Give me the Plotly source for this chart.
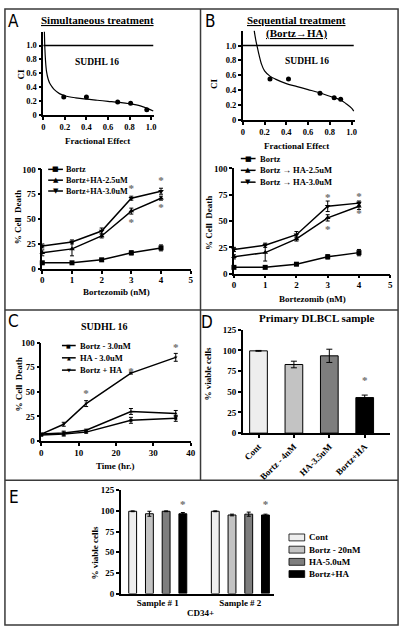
import plotly.graph_objects as go

W, H = 407, 632
def X(px): return px / W
def Y(py): return 1 - py / H

SERIF = "Liberation Serif, Times New Roman, serif"
LETTER = "Liberation Sans Narrow, DejaVu Sans Condensed, sans-serif"
SYM = "DejaVu Sans"

# ---------------- data ----------------
# A (top): combination index, simultaneous treatment
A_fa = [0.19, 0.40, 0.69, 0.81, 0.96]
A_ci = [0.26, 0.26, 0.19, 0.17, 0.08]
A_curve_fa = [0.01, 0.015, 0.02, 0.03, 0.045, 0.06, 0.08, 0.10, 0.15, 0.20, 0.30, 0.40,
              0.50, 0.60, 0.70, 0.80, 0.90, 0.97, 1.02]
A_curve_ci = [1.20, 0.95, 0.80, 0.63, 0.52, 0.46, 0.41, 0.37, 0.31, 0.28, 0.25, 0.23,
              0.215, 0.20, 0.185, 0.165, 0.135, 0.095, 0.06]
# B (top): combination index, sequential treatment
B_fa = [0.25, 0.42, 0.71, 0.84, 0.90]
B_ci = [0.55, 0.55, 0.36, 0.30, 0.28]
B_curve_fa = [0.105, 0.12, 0.135, 0.15, 0.17, 0.20, 0.25, 0.30, 0.40, 0.50, 0.60, 0.70,
              0.80, 0.90, 0.95, 1.00, 1.02]
B_curve_ci = [1.20, 1.07, 0.97, 0.87, 0.76, 0.66, 0.59, 0.55, 0.49, 0.45, 0.41, 0.37,
              0.32, 0.27, 0.22, 0.16, 0.12]
CI_REF = 1.0

# A/B (bottom): % cell death vs bortezomib dose
dose = [0, 1, 2, 3, 4]
A_bortz = [6, 6, 9, 16, 21];   A_bortz_err = [1, 1, 1, 2, 3]
A_ha25 = [16, 20, 33, 58, 71]; A_ha25_err = [3, 7, 2, 3, 2]
A_ha30 = [23, 27, 38, 71, 78]; A_ha30_err = [2, 2, 3, 2, 3]
A_star_x = [3, 3, 4, 4];       A_star_y = [80, 46, 88, 61]
B_bortz = [6, 6, 9, 16, 20];   B_bortz_err = [1, 1, 1, 2, 3]
B_ha25 = [16, 20, 33, 53, 64]; B_ha25_err = [2, 8, 2, 3, 3]
B_ha30 = [23, 27, 37, 64, 67]; B_ha30_err = [2, 2, 3, 5, 2]
B_star_x = [3, 3, 4, 4];       B_star_y = [72, 41, 73, 56]

# C: time course
time_h = [0, 6, 12, 24, 36]
C_bortz = [6, 7, 9, 21, 23];   C_bortz_err = [1, 2, 1, 3, 3]
C_ha = [7, 8, 11, 30, 28];     C_ha_err = [1, 2, 1, 3, 3]
C_combo = [7, 17, 38, 69, 85]; C_combo_err = [1, 2, 3, 1, 4]
C_star_x = [12, 24, 36];       C_star_y = [47, 70, 94]

# D: primary DLBCL sample
D_labels = ["Cont", "Bortz - 4nM", "HA-3.5uM", "Bortz+HA"]
D_vals = [99.5, 83, 93.5, 43]
D_err = [0.5, 4, 8, 3]
D_star_idx = [3]; D_star_y = [63]

# E: CD34+
E_groups = ["Sample # 1", "Sample # 2"]
E_series = ["Cont", "Bortz - 20nM", "HA-5.0uM", "Bortz+HA"]
E_vals = [[99.5, 99.5], [96.5, 95], [99.5, 96], [96.5, 95]]
E_err = [[0.5, 0.5], [3, 1], [0.5, 2.5], [1.5, 1]]
E_star_y = [107, 107]

BAR_COLORS = ["#eeeeee", "#c3c3c3", "#7e7e7e", "#000000"]
STAR_COLOR = "#6e6e6e"

# ---------------- figure ----------------
fig = go.Figure()

def axis(dom_px, rng, tickvals, ticktext=None, anchor=None, horizontal=True, **kw):
    d = dict(range=rng, showline=True, linecolor="black", linewidth=1.5,
             ticks="outside", ticklen=3, tickwidth=1.5, tickcolor="black",
             showgrid=False, zeroline=False, tickvals=tickvals,
             tickfont=dict(family=SERIF, size=9, color="black", weight="bold"),
             anchor=anchor, fixedrange=True)
    if ticktext is not None:
        d["ticktext"] = ticktext
    if horizontal:
        d["domain"] = [X(dom_px[0]), X(dom_px[1])]
    else:
        d["domain"] = [Y(dom_px[0]), Y(dom_px[1])]
    d.update(kw)
    return d

fa_ticks = [0, 0.2, 0.4, 0.6, 0.8, 1.0]
fa_text = ["0", "0.2", "0.4", "0.6", "0.8", "1.0"]
small_tf = dict(family=SERIF, size=8.5, color="black", weight="bold")
layout_axes = dict(
    xaxis=axis((42, 155), [0, 1.03], fa_ticks, fa_text, "y", tickfont=small_tf),
    yaxis=axis((112, 27), [0, 1.2], fa_ticks, fa_text, "x", horizontal=False, tickfont=small_tf),
    xaxis2=axis((41, 192), [0, 5], [0, 1, 2, 3, 4, 5], None, "y2", ticklabelstandoff=-1),
    yaxis2=axis((268, 167), [0, 100], [0, 25, 50, 75, 100], None, "x2", horizontal=False),
    xaxis3=axis((245, 359), [0, 1.03], fa_ticks, fa_text, "y3", tickfont=small_tf),
    yaxis3=axis((117, 26), [0, 1.2], fa_ticks, fa_text, "x3", horizontal=False, tickfont=small_tf),
    xaxis4=axis((236, 395), [0, 5], [0, 1, 2, 3, 4, 5], None, "y4", ticklabelstandoff=-1),
    yaxis4=axis((273, 166), [0, 100], [0, 25, 50, 75, 100], None, "x4", horizontal=False),
    xaxis5=axis((40, 192), [0, 40], [0, 10, 20, 30, 40], None, "y5", ticklabelstandoff=-1),
    yaxis5=axis((443, 343), [0, 100], [0, 25, 50, 75, 100], None, "x5", horizontal=False),
    xaxis6=axis((245, 395), [-0.444, 3.72], list(range(len(D_labels))), D_labels, "y6",
                tickangle=-45),
    yaxis6=axis((435, 330), [0, 125], [0, 25, 50, 75, 100, 125], None, "x6", horizontal=False),
    xaxis7=axis((121, 277), [-0.446, 1.41], list(range(len(E_groups))), E_groups, "y7",
                ticks=""),
    yaxis7=axis((598, 493), [0, 125], [0, 25, 50, 75, 100, 125], None, "x7", horizontal=False),
)

def ci_panel(fa, ci, cfa, cci, xa, ya):
    fig.add_trace(go.Scatter(x=[0, cfa[-1]], y=[CI_REF, CI_REF], mode="lines",
                             line=dict(color="black", width=1.3), xaxis=xa, yaxis=ya,
                             showlegend=False, hoverinfo="skip"))
    fig.add_trace(go.Scatter(x=cfa, y=cci, mode="lines", line=dict(color="black", width=1.2),
                             xaxis=xa, yaxis=ya, showlegend=False, line_shape="spline"))
    fig.add_trace(go.Scatter(x=fa, y=ci, mode="markers", marker=dict(color="black", size=5),
                             xaxis=xa, yaxis=ya, showlegend=False))

ci_panel(A_fa, A_ci, A_curve_fa, A_curve_ci, "x", "y")
ci_panel(B_fa, B_ci, B_curve_fa, B_curve_ci, "x3", "y3")

def line_series(x, y, err, symbol, xa, ya, msize=5):
    fig.add_trace(go.Scatter(
        x=x, y=y, mode="lines+markers", xaxis=xa, yaxis=ya, showlegend=False,
        line=dict(color="black", width=1.5),
        marker=dict(color="black", size=msize, symbol=symbol),
        error_y=dict(type="data", array=err, color="black", thickness=1, width=2),
        cliponaxis=False))

def stars(x, y, xa, ya, size=11):
    fig.add_trace(go.Scatter(x=x, y=y, mode="text", text=["*"] * len(x),
                             textfont=dict(family=SERIF, size=size, color=STAR_COLOR, weight="bold"),
                             xaxis=xa, yaxis=ya, showlegend=False, cliponaxis=False))

line_series(dose, A_bortz, A_bortz_err, "square", "x2", "y2")
line_series(dose, A_ha25, A_ha25_err, "triangle-up", "x2", "y2")
line_series(dose, A_ha30, A_ha30_err, "triangle-down", "x2", "y2")
stars(A_star_x, A_star_y, "x2", "y2")

line_series(dose, B_bortz, B_bortz_err, "square", "x4", "y4")
line_series(dose, B_ha25, B_ha25_err, "triangle-up", "x4", "y4")
line_series(dose, B_ha30, B_ha30_err, "triangle-down", "x4", "y4")
stars(B_star_x, B_star_y, "x4", "y4")

line_series(time_h, C_bortz, C_bortz_err, "square", "x5", "y5", msize=3)
line_series(time_h, C_ha, C_ha_err, "triangle-up", "x5", "y5", msize=3)
line_series(time_h, C_combo, C_combo_err, "triangle-down", "x5", "y5", msize=3)
stars(C_star_x, C_star_y, "x5", "y5")

# D bars
fig.add_trace(go.Bar(x=list(range(len(D_labels))), y=D_vals, width=0.5, xaxis="x6", yaxis="y6",
                     marker=dict(color=BAR_COLORS, line=dict(color="black", width=1)),
                     error_y=dict(type="data", array=D_err, color="black", thickness=1, width=3),
                     showlegend=False))
stars(D_star_idx, D_star_y, "x6", "y6")

# E grouped bars
BARGAP = 0.19
for k, name in enumerate(E_series):
    fig.add_trace(go.Bar(x=list(range(len(E_groups))), y=E_vals[k], name=name,
                         xaxis="x7", yaxis="y7",
                         marker=dict(color=BAR_COLORS[k], line=dict(color="black", width=1)),
                         error_y=dict(type="data", array=E_err[k], color="black", thickness=1, width=2),
                         showlegend=False))
slot = (1 - BARGAP) / len(E_series)
E_star_x = [g + ((len(E_series) - 1) / 2) * slot for g in range(len(E_groups))]
stars(E_star_x, E_star_y, "x7", "y7")

# ---------------- annotations ----------------
ann = []
def txt(px, py, text, size=9, family=SERIF, bold=True, angle=0, xanchor="center", color="black"):
    ann.append(dict(x=X(px), y=Y(py), xref="paper", yref="paper", text=text, showarrow=False,
                    textangle=angle, xanchor=xanchor, yanchor="middle",
                    font=dict(family=family, size=size, color=color,
                              weight="bold" if bold else "normal")))

# panel letters
txt(12, 16, "A", 17, LETTER, bold=False)
txt(212, 16, "B", 17, LETTER, bold=False)
txt(12, 321, "C", 17, LETTER, bold=False)
txt(209, 322, "D", 17, LETTER, bold=False)
txt(12, 500, "E", 17, LETTER, bold=False)

# A
txt(97, 15, "<u>Simultaneous treatment</u>", 11)
txt(97, 58, "SUDHL 16", 9.5)
txt(19, 70, "CI", 9, angle=-90)
txt(97, 138, "Fractional Effect", 9)
txt(16, 216, "% Cell  Death", 9, angle=-90)
txt(117, 292, "Bortezomib (nM)", 9)
# B
txt(300, 15, "<u>Sequential treatment</u>", 11)
txt(300, 29, "<u>(Bortz\u2192HA)</u>", 11)
txt(310, 57, "SUDHL 16", 9.5)
txt(215, 80, "CI", 9, angle=-90)
txt(300, 143, "Fractional Effect", 9)
txt(210, 221, "% Cell  Death", 9, angle=-90)
txt(316, 299, "Bortezomib (nM)", 9)
# C
txt(104, 327, "SUDHL 16", 10)
txt(17, 386, "% Cell  Death", 9, angle=-90)
txt(115, 468, "Time (hr.)", 9)
# D
txt(321, 318, "Primary DLBCL sample", 11)
txt(210, 375, "% viable cells", 9, angle=-90)
# E
txt(95, 557, "% viable cells", 9, angle=-90)
txt(202, 618, "CD34+", 9)

# manual legends (keys as shapes + glyphs)
shapes = []
def key(x0, x1, py, glyph, label, tx, gsize=7, fsize=8.5):
    shapes.append(dict(type="line", xref="paper", yref="paper", x0=X(x0), x1=X(x1),
                       y0=Y(py), y1=Y(py), line=dict(color="black", width=1.5)))
    ann.append(dict(x=X((x0 + x1) / 2), y=Y(py), xref="paper", yref="paper", text=glyph,
                    showarrow=False, xanchor="center", yanchor="middle",
                    font=dict(family=SYM, size=gsize, color="black")))
    txt(tx, py, label, fsize, xanchor="left")

A_leg = ["Bortz", "Bortz+HA-2.5uM", "Bortz+HA-3.0uM"]
B_leg = ["Bortz", "Bortz \u2192 HA-2.5uM", "Bortz \u2192 HA-3.0uM"]
C_leg = ["Bortz - 3.0nM", "HA - 3.0uM", "Bortz + HA"]
glyphs = ["\u25a0", "\u25b2", "\u25bc"]
for i, (lab, gy) in enumerate(zip(A_leg, glyphs)):
    key(47, 62, 167 + 11 * i, gy, lab, 63, fsize=8.2)
for i, (lab, gy) in enumerate(zip(B_leg, glyphs)):
    key(243, 258, 156 + 12 * i, gy, lab, 260)
for i, (lab, gy) in enumerate(zip(C_leg, glyphs)):
    key(61, 75, 346 + 12.5 * i, gy, lab, 77, gsize=5)

for i, lab in enumerate(E_series):
    py = 541 + 12.4 * i
    shapes.append(dict(type="rect", xref="paper", yref="paper", x0=X(292), x1=X(308),
                       y0=Y(py - 3.5), y1=Y(py + 3.5), fillcolor=BAR_COLORS[i],
                       line=dict(color="black", width=0.8)))
    txt(310, py, lab, 9, xanchor="left")

# panel frame lines
FRAME = dict(color="#3a3a3a", width=1.5)
shapes += [
    dict(type="rect", xref="paper", yref="paper", x0=X(3), x1=X(403), y0=Y(630), y1=Y(4), line=FRAME),
    dict(type="line", xref="paper", yref="paper", x0=X(202), x1=X(202), y0=Y(4), y1=Y(483), line=FRAME),
    dict(type="line", xref="paper", yref="paper", x0=X(3), x1=X(403), y0=Y(310), y1=Y(310), line=FRAME),
    dict(type="line", xref="paper", yref="paper", x0=X(3), x1=X(403), y0=Y(483), y1=Y(483), line=FRAME),
]

fig.update_layout(
    width=W, height=H, margin=dict(l=0, r=0, t=0, b=0),
    paper_bgcolor="white", plot_bgcolor="white",
    barmode="group", bargap=BARGAP, bargroupgap=0.53,
    showlegend=False, annotations=ann, shapes=shapes,
    font=dict(family=SERIF, color="black"),
    **layout_axes,
)

fig.write_html("out.html", config={"displayModeBar": False},
               post_script="document.body.style.margin='0px';document.body.style.overflow='hidden';")
